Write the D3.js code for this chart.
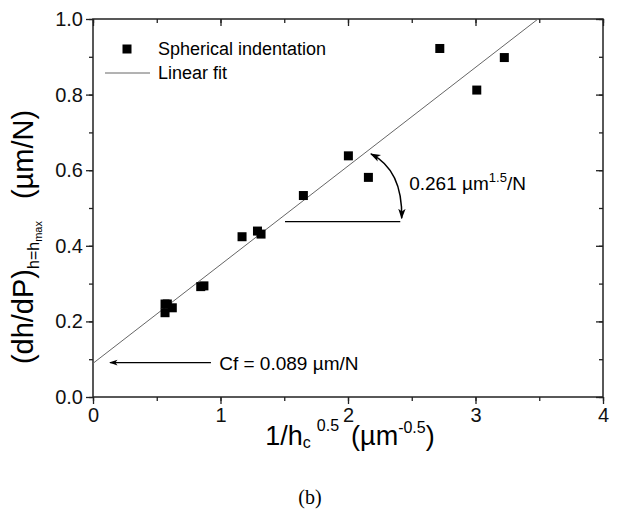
<!DOCTYPE html>
<html><head><meta charset="utf-8">
<script src="https://cdn.jsdelivr.net/npm/d3@7"></script>
<style>body{margin:0;background:#fff}svg{display:block}</style>
</head><body>
<svg id="c" width="620" height="514"></svg>
<script>
const xVals = [0.565,0.583,0.565,0.622,0.845,0.87,1.169,1.29,1.318,1.65,2.003,2.16,2.72,3.01,3.226];
const yVals = [0.246,0.246,0.223,0.236,0.292,0.294,0.424,0.439,0.431,0.533,0.638,0.581,0.922,0.812,0.898];
const fitIntercept = 0.089, fitSlope = 0.261;
const xTicks = [0,1,2,3,4];
const yTicks = [0,0.2,0.4,0.6,0.8,1.0];
const xMinor = d3.range(0,4.01,0.5);
const yMinor = d3.range(0,1.001,0.1);
const legendLabels = ["Spherical indentation","Linear fit"];

const font = "'Liberation Sans', Arial, sans-serif";
const svg = d3.select("#c");
const L=93,R=603,T=19,B=397;
const x = d3.scaleLinear().domain([0,4]).range([L,R]);
const y = d3.scaleLinear().domain([0,1]).range([B,T]);

const defs = svg.append("defs");
defs.append("marker").attr("id","arr").attr("viewBox","0 0 10 10").attr("refX",9).attr("refY",5)
   .attr("markerWidth",7).attr("markerHeight",7).attr("orient","auto-start-reverse")
   .append("path").attr("d","M0,1.5 L10,5 L0,8.5 L2.5,5 Z").attr("fill","#000");

const axCol="#222";
const gB = svg.append("g").attr("transform",`translate(0,${B})`)
  .call(d3.axisBottom(x).tickValues(xMinor).tickSize(4).tickFormat(""));
const gB2 = svg.append("g").attr("transform",`translate(0,${B})`)
  .call(d3.axisBottom(x).tickValues(xTicks).tickSize(7).tickPadding(4).tickFormat(d3.format("d")));
const gL = svg.append("g").attr("transform",`translate(${L},0)`)
  .call(d3.axisLeft(y).tickValues(yMinor).tickSize(4).tickFormat(""));
const gL2 = svg.append("g").attr("transform",`translate(${L},0)`)
  .call(d3.axisLeft(y).tickValues(yTicks).tickSize(7).tickPadding(3).tickFormat(d3.format(".1f")));
const gT = svg.append("g").attr("transform",`translate(0,${T})`)
  .call(d3.axisBottom(x).tickValues(xMinor).tickSize(4).tickFormat(""));
const gT2 = svg.append("g").attr("transform",`translate(0,${T})`)
  .call(d3.axisBottom(x).tickValues(xTicks).tickSize(7).tickFormat(""));
const gR = svg.append("g").attr("transform",`translate(${R},0)`)
  .call(d3.axisLeft(y).tickValues(yMinor).tickSize(4).tickFormat(""));
const gR2 = svg.append("g").attr("transform",`translate(${R},0)`)
  .call(d3.axisLeft(y).tickValues(yTicks).tickSize(7).tickFormat(""));
[gB,gB2,gL,gL2,gT,gT2,gR,gR2].forEach(g=>{
  g.select(".domain").remove();
  g.selectAll(".tick line").attr("stroke",axCol).attr("stroke-width",1.3);
  g.selectAll("text").attr("font-family",font).attr("font-size",20).attr("fill","#111");
});
svg.append("rect").attr("x",L).attr("y",T).attr("width",R-L).attr("height",B-T)
  .attr("fill","none").attr("stroke",axCol).attr("stroke-width",1.5);

// fit line
const xEnd = (1-fitIntercept)/fitSlope;
svg.append("line").attr("x1",x(0)).attr("y1",y(fitIntercept)).attr("x2",x(xEnd)).attr("y2",y(1))
  .attr("stroke","#666").attr("stroke-width",1);

// points
const s=9;
svg.append("g").selectAll("rect").data(xVals.map((v,i)=>[v,yVals[i]])).join("rect")
  .attr("x",d=>x(d[0])-s/2).attr("y",d=>y(d[1])-s/2).attr("width",s).attr("height",s).attr("fill","#000");

// legend
svg.append("rect").attr("x",127-s/2).attr("y",49-s/2).attr("width",s).attr("height",s).attr("fill","#000");
svg.append("line").attr("x1",105).attr("x2",150).attr("y1",73).attr("y2",73).attr("stroke","#666");
svg.selectAll(".lg").data(legendLabels).join("text").attr("x",158).attr("y",(d,i)=>49+24*i+6)
  .attr("font-family",font).attr("font-size",18).text(d=>d);

// Cf annotation
svg.append("line").attr("x1",x(0.925)).attr("x2",x(0.133)).attr("y1",y(0.091)).attr("y2",y(0.091))
  .attr("stroke","#000").attr("stroke-width",1.2).attr("marker-end","url(#arr)");
svg.append("text").attr("x",x(0.99)).attr("y",y(0.091)+7).attr("font-family",font).attr("font-size",19)
  .text("Cf = 0.089 µm/N");

// slope annotation
svg.append("line").attr("x1",x(1.506)).attr("x2",x(2.41)).attr("y1",y(0.464)).attr("y2",y(0.464))
  .attr("stroke","#000").attr("stroke-width",1.3);
const p0=[x(2.18),y(0.643)], pc=[x(2.43),y(0.60)], p1=[x(2.421),y(0.473)];
svg.append("path").attr("d",`M${p0[0]},${p0[1]} Q${pc[0]},${pc[1]} ${p1[0]},${p1[1]}`)
  .attr("fill","none").attr("stroke","#000").attr("stroke-width",1.5)
  .attr("marker-start","url(#arr)").attr("marker-end","url(#arr)");
const st = svg.append("text").attr("x",x(2.48)).attr("y",y(0.565)+7).attr("font-family",font).attr("font-size",19);
st.append("tspan").text("0.261 µm");
st.append("tspan").attr("font-size",13).attr("dy",-8).text("1.5");
st.append("tspan").attr("dy",8).text("/N");

// x label
const xl = svg.append("text").attr("x",350).attr("y",445).attr("text-anchor","middle").attr("font-family",font).attr("font-size",27);
xl.append("tspan").text("1/h");
xl.append("tspan").attr("font-size",16).attr("dy",3).text("c");
xl.append("tspan").attr("font-size",16).attr("dx",6).attr("dy",-17).text("0.5");
xl.append("tspan").attr("dx",12).attr("dy",14).text("(µm");
xl.append("tspan").attr("font-size",16).attr("dy",-12).text("-0.5");
xl.append("tspan").attr("dy",12).text(")");

// y label
const yl = svg.append("text").attr("transform","translate(33,237) rotate(-90)").attr("text-anchor","middle")
  .attr("font-family",font).attr("font-size",29);
yl.append("tspan").text("(dh/dP)");
yl.append("tspan").attr("font-size",16).attr("dy",6).text("h=h");
yl.append("tspan").attr("font-size",11).attr("dy",3).text("max");
yl.append("tspan").attr("dx",22).attr("dy",-9).text("(µm/N)");

// caption
svg.append("text").attr("x",310).attr("y",504).attr("text-anchor","middle")
  .attr("font-family","'Liberation Serif','Times New Roman',serif").attr("font-size",20).text("(b)");
</script>
</body></html>
